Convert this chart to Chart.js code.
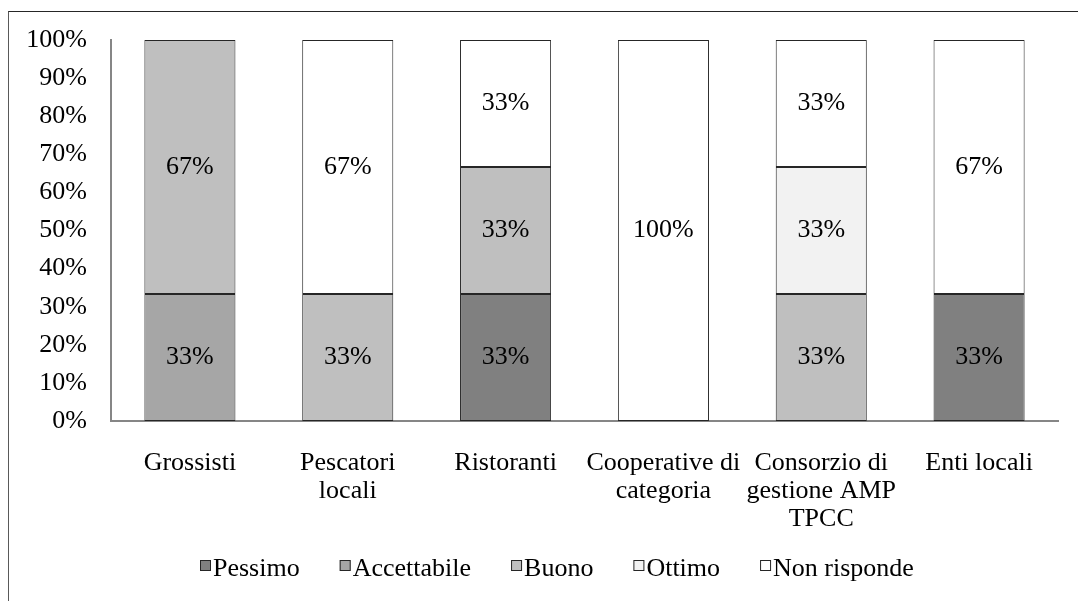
<!DOCTYPE html>
<html>
<head>
<meta charset="utf-8">
<script src="https://cdn.jsdelivr.net/npm/chart.js@4/dist/chart.umd.min.js"></script>
<style>
  html, body { margin: 0; padding: 0; background: #fff; overflow: hidden; }
  #wrap { position: relative; width: 1078px; height: 601px; }
  #frame { position: absolute; left: 8px; top: 11px; width: 1200px; height: 700px;
           border-top: 1.5px solid #262626; border-left: 1.5px solid #595959; box-sizing: border-box; }
  canvas { position: absolute; left: 0; top: 0; }
</style>
</head>
<body>
<div id="wrap">
  <div id="frame"></div>
  <canvas id="c" width="1078" height="601"></canvas>
</div>
<script>
const categories = ["Grossisti", ["Pescatori", "locali"], "Ristoranti", ["Cooperative di", "categoria"], ["Consorzio di", "gestione AMP", "TPCC"], "Enti locali"];
const seriesNames = ["Pessimo", "Accettabile", "Buono", "Ottimo", "Non risponde"];
const pessimo     = [null, null, 33.33, null, null, 33.33];
const accettabile = [33.33, null, null, null, null, null];
const buono       = [66.67, 33.33, 33.33, null, 33.33, null];
const ottimo      = [null, null, null, null, 33.33, null];
const nonRisponde = [null, 66.67, 33.34, 100, 33.34, 66.67];
const yTicks = [0, 10, 20, 30, 40, 50, 60, 70, 80, 90, 100];

const colors = ["#808080", "#a6a6a6", "#bfbfbf", "#f2f2f2", "#ffffff"];
const seriesData = [pessimo, accettabile, buono, ottimo, nonRisponde];
const FONT = "'Liberation Serif', 'Times New Roman', serif";

const labelPlugin = {
  id: 'segLabels',
  afterDatasetsDraw(chart) {
    const ctx = chart.ctx;
    ctx.save();
    ctx.font = "26px " + FONT;
    ctx.fillStyle = "#000";
    ctx.textAlign = "center";
    ctx.textBaseline = "middle";
    chart.data.datasets.forEach((ds, di) => {
      const meta = chart.getDatasetMeta(di);
      meta.data.forEach((bar, i) => {
        const v = ds.data[i];
        if (v == null || v === 0) return;
        const y = (bar.y + bar.base) / 2;
        ctx.fillText(Math.round(v) + "%", bar.x, y);
      });
    });
    ctx.restore();
  }
};

// Legend drawn on the canvas from the dataset labels/colours (Excel-like: small box, tight gap)
const legendPlugin = {
  id: 'excelLegend',
  afterDraw(chart) {
    const ctx = chart.ctx;
    ctx.save();
    ctx.font = "26px " + FONT;
    ctx.textBaseline = "alphabetic";
    ctx.textAlign = "left";
    const box = 11, gapText = 2, gapItem = 40, baseline = 576, boxTop = 560;
    let x = 200;
    chart.data.datasets.forEach(ds => {
      ctx.fillStyle = ds.backgroundColor;
      ctx.fillRect(x, boxTop, box, box);
      ctx.strokeStyle = "#262626";
      ctx.lineWidth = 1;
      ctx.strokeRect(x + 0.5, boxTop + 0.5, box - 1, box - 1);
      const tx = x + box + gapText;
      ctx.fillStyle = "#000";
      ctx.fillText(ds.label, tx, baseline);
      x = tx + ctx.measureText(ds.label).width + gapItem;
    });
    ctx.restore();
  }
};

new Chart(document.getElementById('c'), {
  type: 'bar',
  data: {
    labels: categories,
    datasets: seriesNames.map((n, k) => ({
      label: n,
      data: seriesData[k],
      backgroundColor: colors[k],
      borderColor: "#262626",
      borderWidth: 1,
      borderSkipped: false,
      categoryPercentage: 1,
      barPercentage: 0.577
    }))
  },
  options: {
    responsive: false,
    animation: false,
    devicePixelRatio: 1,
    layout: { padding: { left: 0, right: 20, top: 40, bottom: 67 } },
    plugins: {
      tooltip: { enabled: false },
      legend: { display: false }
    },
    scales: {
      x: {
        stacked: true,
        grid: { display: false, drawTicks: false },
        border: { display: true, color: "#868686", width: 2 },
        ticks: { font: { family: FONT, size: 26, lineHeight: 1.08 }, color: "#000", padding: 28, maxRotation: 0, autoSkip: false },
        afterFit(s) { s.height = 113; }
      },
      y: {
        stacked: true,
        min: 0, max: 100,
        grid: { display: false, drawTicks: false },
        border: { display: true, color: "#868686", width: 2 },
        afterBuildTicks(s) { s.ticks = yTicks.map(v => ({ value: v })); },
        ticks: { font: { family: FONT, size: 26 }, color: "#000", padding: 24, callback: v => v + "%" },
        afterFit(s) { s.width = 111; }
      }
    }
  },
  plugins: [labelPlugin, legendPlugin]
});
</script>
</body>
</html>
